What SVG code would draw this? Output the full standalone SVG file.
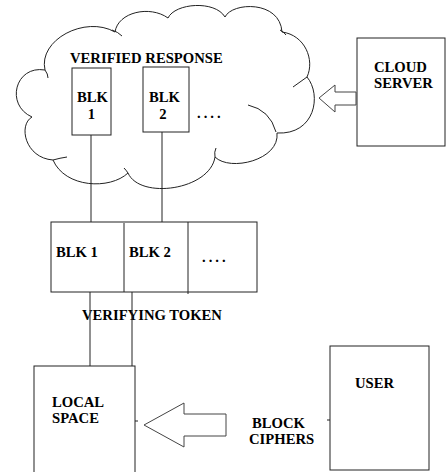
<svg xmlns="http://www.w3.org/2000/svg" width="446" height="472" viewBox="0 0 446 472">
<style>
.bx{fill:#fff;stroke:#222;stroke-width:1}
.ln{fill:none;stroke:#222;stroke-width:1}
.cl{fill:#fff;stroke:#222;stroke-width:1}
.ar{fill:#fff;stroke:#444;stroke-width:1}
.t{font-family:'Liberation Serif','Times New Roman',Times,serif;font-weight:700;font-size:14.67px;fill:#000}
</style>
<rect width="446" height="472" fill="#fff"/>
<g id="cloud">
<path class="cl" d="M45,70 C38,40 85,15 115,32 C118,12 150,5 168,18 C175,3 215,0 225,17 C232,2 280,0 282,32 C305,35 315,60 307,77 C322,95 315,135 277,133 C280,160 230,172 215,157 C210,190 140,200 128,173 C110,190 65,188 53,160 C25,158 18,125 32,117 C5,105 15,65 45,70 Z"/>
<path class="ln" d="M112,30 Q118,32 122,36 M280,30 Q284,32 286,35 M307,77 Q300,82 293,87 M248,105 Q270,110 276,132 M215,157 Q214,152 216,148 M128,173 Q126,170 124,168 M53,160 Q60,158 67,157 M45,70 Q48,74 48,78"/>
<text class="t" x="70" y="63">VERIFIED RESPONSE</text>
</g>
<g id="vblk1">
<rect class="bx" x="72" y="68" width="39" height="67"/>
<text class="t" x="77" y="102">BLK</text>
<text class="t" x="91.5" y="119" text-anchor="middle">1</text>
</g>
<g id="vblk2">
<rect class="bx" x="143" y="67" width="46" height="65"/>
<text class="t" x="149" y="102">BLK</text>
<text class="t" x="163" y="119" text-anchor="middle">2</text>
</g>
<g id="vdots">
<text class="t" x="197" y="118" letter-spacing="3">....</text>
</g>
<g id="cloudserver">
<rect class="bx" x="357" y="38" width="88" height="108"/>
<text class="t" x="374" y="72">CLOUD</text>
<text class="t" x="374" y="88">SERVER</text>
</g>
<g id="token">
<rect class="bx" x="51" y="222" width="206" height="70"/>
<line class="ln" x1="124" y1="223" x2="124" y2="292"/>
<line class="ln" x1="188" y1="222" x2="188" y2="294"/>
<text class="t" x="56" y="257">BLK 1</text>
<text class="t" x="129" y="257">BLK 2</text>
<text class="t" x="202" y="262" letter-spacing="3">....</text>
<text class="t" x="82" y="320">VERIFYING TOKEN</text>
</g>
<g id="localspace">
<rect class="bx" x="34" y="366" width="101" height="112"/>
<text class="t" x="52" y="407">LOCAL</text>
<text class="t" x="52" y="423">SPACE</text>
</g>
<g id="user">
<rect class="bx" x="330" y="346" width="99" height="124"/>
<text class="t" x="355" y="388">USER</text>
</g>
<g id="blockciphers">
<text class="t" x="252" y="428">BLOCK</text>
<text class="t" x="249" y="444">CIPHERS</text>
</g>
<g id="connectors">
<line class="ln" x1="91" y1="135" x2="91" y2="222"/>
<line class="ln" x1="162" y1="132" x2="162" y2="222"/>
<line class="ln" x1="90" y1="292" x2="90" y2="366"/>
<line class="ln" x1="132" y1="292" x2="132" y2="366"/>
<line class="ln" x1="135" y1="421" x2="138" y2="421"/>
<line class="ln" x1="327" y1="420" x2="330" y2="420"/>
<polygon class="ar" points="319,98 335,85 335,92 356,92 356,105 335,105 335,112"/>
<polygon class="ar" points="144,425 184,403 184,414 226,414 226,436 184,436 184,447"/>
</g>
</svg>
